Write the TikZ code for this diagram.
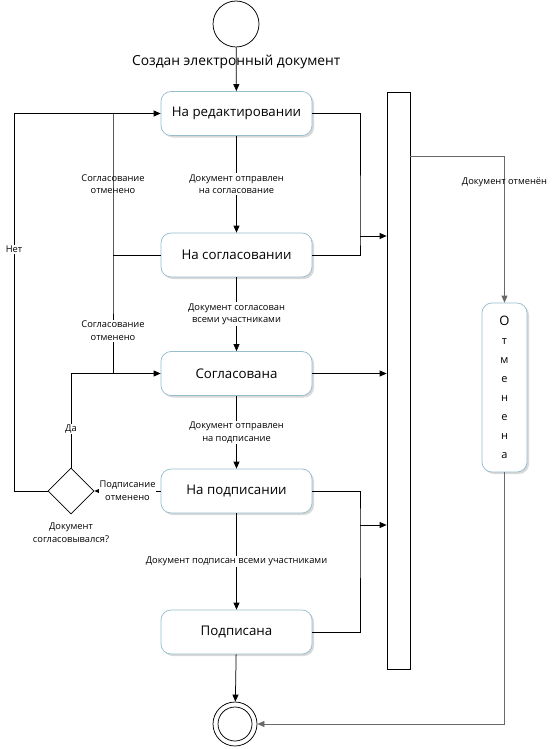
\documentclass[tikz,border=0pt]{standalone}
\usepackage{fontspec}
\setmainfont{Open Sans}
\usetikzlibrary{shapes.geometric, arrows.meta, positioning, shadows}
\definecolor{cBorder}{RGB}{150,190,205}
\definecolor{cLine}{RGB}{105,105,105}
\tikzset{
	stbox/.style  ={rectangle, rounded corners=10pt, minimum width=151pt, minimum height=44pt, align=center, draw=cBorder, fill=white, drop shadow={shadow xshift=2pt, shadow yshift=-2pt, opacity=0.3}, font=\fontsize{13.3}{15}\selectfont},
	startc/.style ={circle, draw=black, fill=white, minimum size=46pt, inner sep=0pt},
	endc/.style   ={circle, draw=black, fill=white, minimum size=44pt, inner sep=0pt},
	endin/.style  ={circle, draw=black, minimum size=34pt, inner sep=0pt},
	syncbar/.style={rectangle, draw=black, fill=white, minimum width=23pt, minimum height=577pt, inner sep=0pt},
	decision/.style={diamond, aspect=1, draw=black, fill=white, minimum width=46pt, minimum height=46pt, inner sep=0pt},
	lbl/.style    ={align=center, inner sep=1pt, font=\fontsize{9.3}{12.8}\selectfont},
	arr/.style    ={-{Triangle[length=7pt, width=6pt]}},
}
\begin{document}
\begin{tikzpicture}[x=1pt, y=-1pt, line width=0.75pt]
	\useasboundingbox (0,0) rectangle (553,749);
	% states
	\node[startc] (start) at (236,24) {};
	\node[stbox] (edit)   at (236.5,113.5) {На редактировании};
	\node[stbox] (agree)  at (236.5,255)   {На согласовании};
	\node[stbox] (agreed) at (236.5,373.5) {Согласована};
	\node[stbox] (sign)   at (236.5,491)   {На подписании};
	\node[stbox] (signed) at (236.5,632)   {Подписана};
	\node[endc] (end) at (235,724) {};
	\node[endin] (endi) at (end) {};
	\node[syncbar] (bar) at (398.5,380.5) {};
	\node[stbox, minimum width=45pt, minimum height=169pt, font=\fontsize{11}{19}\selectfont] (cancel) at (504.5,387.5)
		{{\fontsize{13}{19}\selectfont О}\\т\\м\\е\\н\\е\\н\\а};
	\node[decision] (dec) at (71,491) {};
	\node[lbl] (decq) at (71,532.5) {Документ\\согласовывался?};
	% main flow
	\draw[arr] (start) -- node[lbl, font=\fontsize{13.8}{15}\selectfont, pos=0.34] (created) {Создан электронный документ} (edit);
	\draw[arr] (edit) -- node[lbl, fill=white] {Документ отправлен\\на согласование} (agree);
	\draw[arr] (agree) -- node[lbl, fill=white] {Документ согласован\\всеми участниками} (agreed);
	\draw[arr] (agreed) -- node[lbl, fill=white] {Документ отправлен\\на подписание} (sign);
	\draw[arr] (sign) -- node[lbl, fill=white] {Документ подписан всеми участниками} (signed);
	\draw[arr] (signed) -- (end);
	% to the bar
	\coordinate (rj1) at (360,236);
	\coordinate (rj2) at (360,525);
	\draw (edit.east) -| (rj1) |- (agree.east);
	\draw[arr] (rj1) -- (rj1 -| bar.west);
	\draw[arr] (agreed.east) -- (agreed.east -| bar.west);
	\draw (sign.east) -| (rj2) |- (signed.east);
	\draw[arr] (rj2) -- (rj2 -| bar.west);
	% cancelled
	\coordinate (bo) at (bar.east |- 0,156);
	\draw[arr, cLine] (bo) -| node[lbl, pos=0.59, text=black] {Документ отменён} (cancel.north);
	\draw[arr, cLine] (cancel.south) |- (end.east);
	% back loops
	\coordinate (ljt) at (113,113.5);
	\coordinate (ljm) at (113,255);
	\coordinate (ljb) at (113,373.5);
	\coordinate (ln) at (14,113.5);
	\coordinate (ly) at (71,373.5);
	\draw (agree.west) -- (ljm);
	\draw (ljt) -- node[lbl] {Согласование\\отменено} (ljm) -- node[lbl, fill=white, pos=0.64] {Согласование\\отменено} (ljb);
	\draw[arr] (sign.west) -- node[lbl, fill=white] {Подписание\\отменено} (dec.east);
	\draw[arr] (dec.north) -- node[lbl, fill=white, pos=0.41] {Да} (ly) -- (agreed.west);
	\draw[arr] (dec.west) -| node[lbl, fill=white, pos=0.82] {Нет} (ln) -- (edit.west);
\end{tikzpicture}
\end{document}
